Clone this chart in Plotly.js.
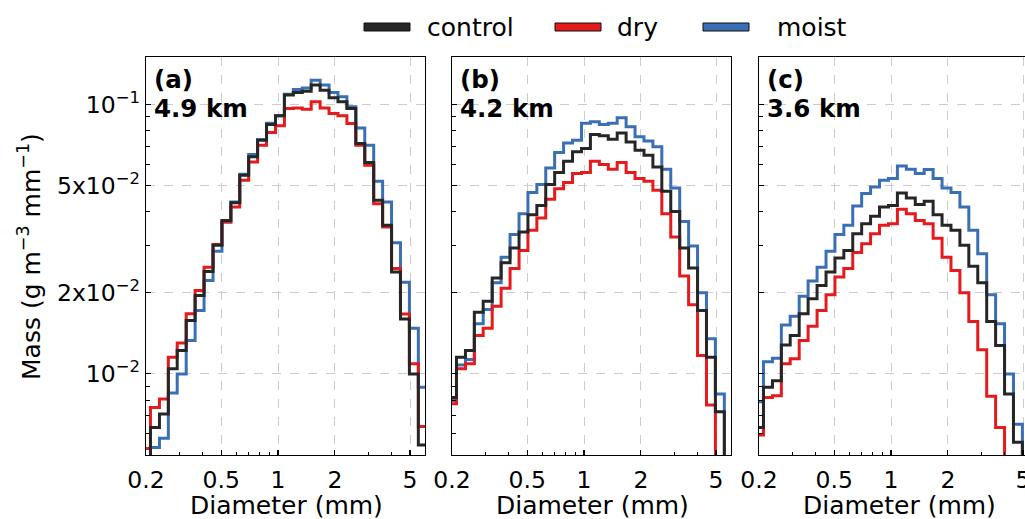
<!DOCTYPE html>
<html><head><meta charset="utf-8">
<script src="https://cdn.plot.ly/plotly-3.0.1.min.js"></script>
<style>html,body{margin:0;padding:0;overflow:hidden;background:#fff;width:1025px;height:519px}</style>
</head><body><div id="chart" style="width:1045px;height:519px"></div>
<script>
// Bin-centre diameters (mm)
const diameter = [0.200,0.223,0.249,0.277,0.309,0.345,0.384,0.429,0.478,0.533,0.594,0.662,0.738,0.823,0.918,1.024,1.141,1.273,1.419,1.582,1.764,1.967,2.193,2.445,2.726,3.040,3.389,3.779,4.214,4.698,5.239,5.841,6.513];

// Panel (a) 4.9 km
const a_control = [0.0045,0.00633,0.0071,0.01044,0.01221,0.01578,0.01954,0.02401,0.030,0.0371,0.0432,0.0546,0.0639,0.0737,0.0843,0.0907,0.1083,0.1108,0.112,0.118,0.113,0.1058,0.1023,0.0966,0.0716,0.0609,0.0441,0.0356,0.0239,0.0160,0.0100,0.00545,0.0035];
const a_dry     = [0.00529,0.00751,0.00807,0.01153,0.01303,0.01671,0.0204,0.0249,0.0302,0.0366,0.0416,0.0523,0.0612,0.0706,0.0787,0.0833,0.0966,0.0971,0.0960,0.1023,0.0971,0.0926,0.0907,0.0850,0.0706,0.0595,0.0428,0.0351,0.0246,0.0167,0.0109,0.00638,0.0045];
const a_moist   = [0.0047,0.00533,0.00577,0.0085,0.0100,0.0133,0.01719,0.0222,0.0285,0.0366,0.0434,0.0551,0.0652,0.0741,0.0851,0.0907,0.109,0.1137,0.115,0.1231,0.118,0.1108,0.1067,0.098,0.0818,0.0706,0.0519,0.0434,0.0307,0.0219,0.01477,0.00892,0.0058];

// Panel (b) 4.2 km
const b_control = [0.00818,0.01153,0.0122,0.01694,0.0186,0.02267,0.02586,0.0293,0.0336,0.039,0.0422,0.0504,0.0559,0.0616,0.0667,0.0686,0.0774,0.0765,0.0743,0.0784,0.0726,0.0676,0.0648,0.0586,0.0476,0.0401,0.0293,0.0247,0.0172,0.01153,0.00724,0.0042,0.003];
const b_dry     = [0.00774,0.01044,0.0109,0.01388,0.01477,0.01784,0.0208,0.0246,0.0287,0.0341,0.0379,0.0445,0.0487,0.0513,0.0554,0.0559,0.0616,0.0598,0.0575,0.0609,0.0559,0.0531,0.0519,0.048,0.0393,0.0322,0.0231,0.01806,0.0117,0.00767,0.0042,0.003,0.002];
const b_moist   = [0.00796,0.0108,0.0113,0.01534,0.01734,0.0218,0.0271,0.0329,0.0393,0.0471,0.0504,0.0581,0.0663,0.072,0.0737,0.0851,0.0862,0.0843,0.0851,0.0892,0.0826,0.0758,0.0731,0.0696,0.0575,0.049,0.0368,0.0298,0.020,0.0135,0.00842,0.0045,0.003];

// Panel (c) 3.6 km
const c_control = [0.00633,0.00892,0.00944,0.0128,0.01388,0.01671,0.019,0.0213,0.0239,0.0269,0.0287,0.0331,0.0361,0.0385,0.0416,0.0422,0.0469,0.045,0.0425,0.0437,0.039,0.0356,0.0341,0.030,0.0251,0.0218,0.01564,0.01274,0.00842,0.00557,0.0042,0.003,0.002];
const c_dry     = [0.00593,0.00818,0.0083,0.0109,0.01138,0.0133,0.01503,0.01719,0.01966,0.02287,0.0246,0.0282,0.0304,0.0331,0.0356,0.0361,0.0408,0.0393,0.0371,0.0361,0.0319,0.0271,0.0242,0.020,0.01564,0.0123,0.00826,0.00633,0.0042,0.003,0.002,0.0015,0.001];
const c_moist   = [0.00788,0.0111,0.01143,0.0152,0.01637,0.01943,0.0221,0.0249,0.0285,0.0329,0.0356,0.042,0.0467,0.0494,0.0523,0.0531,0.0591,0.0575,0.0554,0.0573,0.0531,0.049,0.0471,0.0416,0.0341,0.0279,0.01966,0.01534,0.0100,0.0065,0.0042,0.003,0.002];

const seriesNames = ['control','dry','moist'];
const seriesColors = ['#262626','#e41a1c','#3a6fb5'];
const panelLetters = ['(a)','(b)','(c)'];
const panelHeights = ['4.9 km','4.2 km','3.6 km'];
const panelData = [[a_control,a_dry,a_moist],[b_control,b_dry,b_moist],[c_control,c_dry,c_moist]];

const xTickVals = [0.2,0.5,1,2,5];
const xTickText = ['0.2','0.5','1','2','5'];
const xMinor = [0.3,0.4,0.6,0.7,0.8,0.9,3,4];
const yTickVals = [0.01,0.02,0.05,0.1];
const yTickText = ['10<sup>\u22122</sup>','2x10<sup>\u22122</sup>','5x10<sup>\u22122</sup>','10<sup>\u22121</sup>'];
const yMinor = [0.006,0.007,0.008,0.009,0.03,0.04,0.06,0.07,0.08,0.09];

// ---- layout geometry (pixels) ----
const W = 1045, H = 519;
const L = 146, R = 7, T = 57, B = 64;
const PW = W - L - R, PH = H - T - B;
const panelPx = [[146,425],[452,731],[759,1038]];
const px2x = p => (p - L) / PW;
const py2y = p => (H - B - p) / PH;
const FONT = 'DejaVu Sans, Verdana, sans-serif';

const traces = [];
const drawOrder = [2,1,0];
panelData.forEach((pd, i) => {
  const sfx = i === 0 ? '' : String(i + 1);
  drawOrder.forEach(s => {
    traces.push({
      type: 'scatter', mode: 'lines', x: diameter, y: pd[s],
      xaxis: 'x' + sfx, yaxis: 'y' + sfx, name: seriesNames[s],
      line: {color: seriesColors[s], width: 3, shape: 'hvh'},
      showlegend: false, hoverinfo: 'skip'
    });
  });
});

const layout = {
  width: W, height: H,
  margin: {l: L, r: R, t: T, b: B},
  paper_bgcolor: '#fff', plot_bgcolor: '#fff',
  font: {family: FONT, size: 24, color: '#000'},
  showlegend: false,
  annotations: [], shapes: []
};

panelPx.forEach((pp, i) => {
  const sfx = i === 0 ? '' : String(i + 1);
  layout['xaxis' + sfx] = {
    type: 'log', range: [Math.log10(0.2), Math.log10(6)],
    domain: [px2x(pp[0]), px2x(pp[1])], anchor: 'y' + sfx,
    tickmode: 'array', tickvals: xTickVals, ticktext: xTickText,
    ticks: 'inside', ticklen: 5, tickwidth: 1.2, tickcolor: '#000',
    showline: true, linecolor: '#000', linewidth: 1.3, mirror: true,
    showgrid: true, gridcolor: '#cccccc', gridwidth: 1, griddash: 'dash',
    zeroline: false, tickfont: {size: 23.5, color: '#000'}, ticklabelstandoff: 3,
    minor: {tickmode: 'array', tickvals: xMinor, ticks: 'inside', ticklen: 3.5, tickwidth: 1, tickcolor: '#000', showgrid: false}
  };
  layout['yaxis' + sfx] = {
    type: 'log', range: [Math.log10(0.005), Math.log10(0.15)],
    domain: [0, 1], anchor: 'x' + sfx,
    tickmode: 'array', tickvals: yTickVals, ticktext: yTickText,
    showticklabels: i === 0,
    ticks: 'inside', ticklen: 5, tickwidth: 1.2, tickcolor: '#000',
    showline: true, linecolor: '#000', linewidth: 1.3, mirror: true,
    showgrid: true, gridcolor: '#cccccc', gridwidth: 1, griddash: 'dash',
    zeroline: false, tickfont: {size: 23.5, color: '#000'},
    minor: {tickmode: 'array', tickvals: yMinor, ticks: 'inside', ticklen: 3.5, tickwidth: 1, tickcolor: '#000', showgrid: false}
  };
  // panel labels
  layout.annotations.push({
    xref: 'paper', yref: 'paper', x: px2x(pp[0] + 6), y: py2y(80),
    xanchor: 'left', yanchor: 'middle', showarrow: false,
    text: '<b>' + panelLetters[i] + '</b>', font: {family: FONT, size: 24.5, color: '#000'}
  });
  layout.annotations.push({
    xref: 'paper', yref: 'paper', x: px2x(pp[0] + 6), y: py2y(108),
    xanchor: 'left', yanchor: 'middle', showarrow: false,
    text: '<b>' + panelHeights[i] + '</b>', font: {family: FONT, size: 24.5, color: '#000'}
  });
  // x axis title
  layout.annotations.push({
    xref: 'paper', yref: 'paper', x: px2x((pp[0] + pp[1]) / 2 + 1), y: py2y(505),
    xanchor: 'center', yanchor: 'middle', showarrow: false,
    text: 'Diameter (mm)', font: {family: FONT, size: 25, color: '#000'}
  });
});

// y axis title
layout.annotations.push({
  xref: 'paper', yref: 'paper', x: px2x(29), y: py2y(257),
  xanchor: 'center', yanchor: 'middle', showarrow: false, textangle: -90,
  text: 'Mass (g m<sup>\u22123</sup> mm<sup>\u22121</sup>)', font: {family: FONT, size: 25, color: '#000'}
});

// legend (custom patches)
const legendPatchX = [364, 555, 703];
const legendTextX = [425, 615, 775];
seriesNames.forEach((n, s) => {
  layout.shapes.push({
    type: 'rect', xref: 'paper', yref: 'paper',
    x0: px2x(legendPatchX[s]), x1: px2x(legendPatchX[s] + 46),
    y0: py2y(31), y1: py2y(23),
    fillcolor: seriesColors[s], line: {color: '#111', width: 1}
  });
  layout.annotations.push({
    xref: 'paper', yref: 'paper', x: px2x(legendTextX[s]), y: py2y(27),
    xanchor: 'left', yanchor: 'middle', showarrow: false,
    text: n, font: {family: FONT, size: 25, color: '#000'}
  });
});

Plotly.newPlot('chart', traces, layout, {staticPlot: true, displayModeBar: false});
</script>
</body></html>
